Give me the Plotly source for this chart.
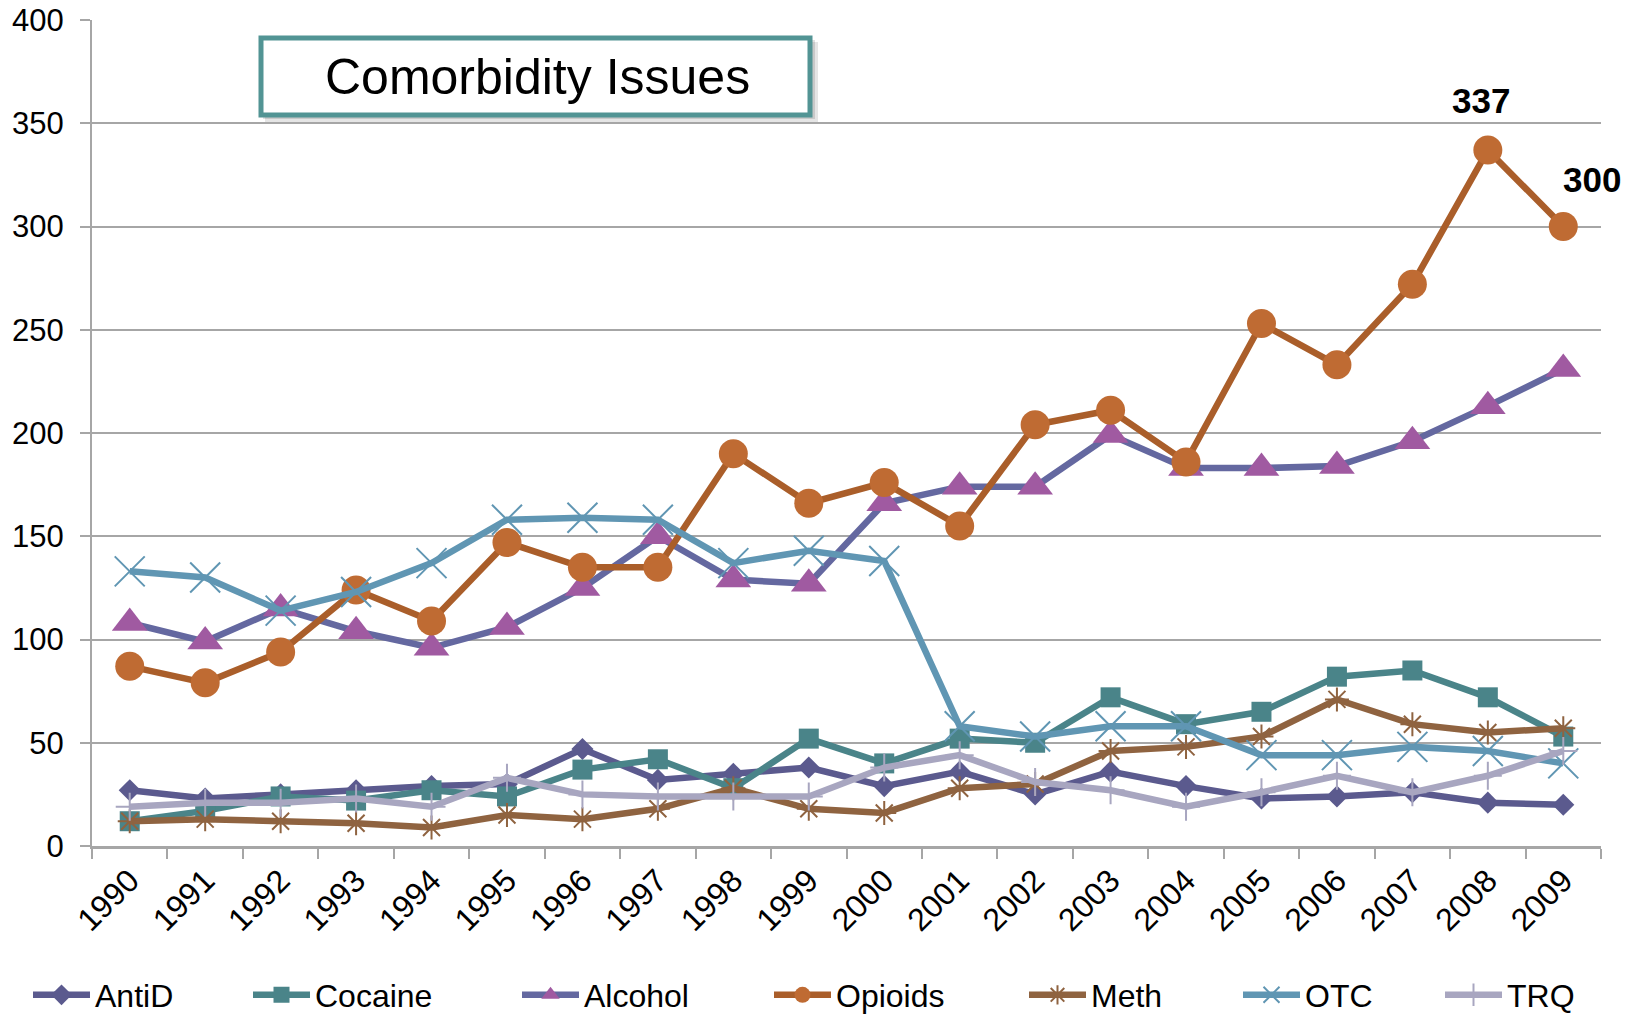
import plotly.graph_objects as go

years = [str(y) for y in range(1990, 2010)]
antid = [27, 23, 25, 27, 29, 30, 47, 32, 35, 38, 29, 36, 25, 36, 29, 23, 24, 26, 21, 20]
cocaine = [12, 17, 24, 22, 27, 24, 37, 42, 28, 52, 40, 52, 50, 72, 59, 65, 82, 85, 72, 53]
alcohol = [108, 99, 115, 104, 96, 106, 125, 150, 129, 127, 166, 174, 174, 199, 183, 183, 184, 196, 213, 231]
opioids = [87, 79, 94, 124, 109, 147, 135, 135, 190, 166, 176, 155, 204, 211, 186, 253, 233, 272, 337, 300]
meth = [12, 13, 12, 11, 9, 15, 13, 18, 28, 18, 16, 28, 30, 46, 48, 53, 71, 59, 55, 57]
otc = [133, 130, 114, 123, 137, 158, 159, 158, 137, 143, 138, 58, 53, 58, 58, 44, 44, 48, 46, 40]
trq = [19, 21, 21, 23, 19, 33, 25, 24, 24, 24, 38, 44, 31, 27, 19, 26, 34, 26, 34, 46]

title_text = "Comorbidity Issues"
y_ticks = [0, 50, 100, 150, 200, 250, 300, 350, 400]

FONT = "Liberation Sans, Arial, sans-serif"

series = [
    dict(name="AntiD", y=antid, line="#5B5A8E", mcolor="#5B5A8E", symbol="diamond", size=17, lw=0),
    dict(name="Cocaine", y=cocaine, line="#4A8489", mcolor="#4A8489", symbol="square", size=20, lw=0),
    dict(name="Alcohol", y=alcohol, line="#6468A0", mcolor="#A05AA1", symbol="triangle-up", size=31, lw=0),
    dict(name="Opioids", y=opioids, line="#AA5E2A", mcolor="#BF6B33", symbol="circle", size=29, lw=0),
    dict(name="Meth", y=meth, line="#8F6340", mcolor="#8F6340", symbol="asterisk-open", size=20, lw=2),
    dict(name="OTC", y=otc, line="#6096B3", mcolor="#6096B3", symbol="x-thin-open", size=30, lw=2),
    dict(name="TRQ", y=trq, line="#A8A6C0", mcolor="#A8A6C0", symbol="cross-thin-open", size=20, lw=2),
]

# page body margin is removed in post_script, so page coords == figure coords
W, H = 1638, 1015
PL, PR, PT, PB = 92, 1601, 20, 846          # plot area in page pixels
L, R, T, B = PL, W - PR, PT, H - PB
pw, ph = W - L - R, H - T - B

def px(x):
    return (x - L) / pw

def py(y):
    return (H - B - y) / ph

legend_x_page = [33, 253, 522, 774, 1029, 1243, 1445]

fig = go.Figure()
for i, s in enumerate(series):
    marker = dict(symbol=s["symbol"], size=s["size"], color=s["mcolor"])
    if s["lw"]:
        marker["line"] = dict(color=s["mcolor"], width=s["lw"])
    else:
        marker["line"] = dict(width=0)
    fig.add_trace(go.Scatter(
        x=years, y=s["y"], name=s["name"], mode="lines+markers",
        line=dict(color=s["line"], width=6.5),
        marker=marker,
        legend="legend" if i == 0 else "legend%d" % (i + 1),
    ))

shapes = [
    dict(type="rect", xref="paper", yref="paper",
         x0=px(265), x1=px(818), y0=py(122), y1=py(42),
         fillcolor="rgba(0,0,0,0.10)", line=dict(width=0), layer="above"),
    dict(type="rect", xref="paper", yref="paper",
         x0=px(263), x1=px(815), y0=py(119), y1=py(40),
         fillcolor="rgba(0,0,0,0.12)", line=dict(width=0), layer="above"),
    dict(type="rect", xref="paper", yref="paper",
         x0=px(261), x1=px(810), y0=py(115), y1=py(38),
         fillcolor="white", line=dict(color="#529494", width=5), layer="above"),
]

annotations = [
    dict(xref="paper", yref="paper", x=px(537), y=py(77), text=title_text,
         showarrow=False, font=dict(family=FONT, size=50, color="black"),
         xanchor="center", yanchor="middle"),
    dict(xref="x", yref="y", x=18, y=opioids[18], text="<b>" + str(opioids[18]) + "</b>",
         showarrow=False, xshift=-7, yshift=50,
         font=dict(family=FONT, size=35, color="black")),
    dict(xref="x", yref="y", x=19, y=opioids[19], text="<b>" + str(opioids[19]) + "</b>",
         showarrow=False, xshift=29, yshift=47,
         font=dict(family=FONT, size=35, color="black")),
]

legends = {}
for i, lx in enumerate(legend_x_page):
    key = "legend" if i == 0 else "legend%d" % (i + 1)
    legends[key] = dict(
        orientation="h", x=px(lx - 5), xanchor="left", y=py(995), yanchor="middle",
        font=dict(family=FONT, size=32, color="black"),
        itemwidth=57, bgcolor="rgba(0,0,0,0)",
    )

fig.update_layout(
    width=W, height=H,
    margin=dict(l=L, r=R, t=T, b=B, pad=0, autoexpand=False),
    paper_bgcolor="white", plot_bgcolor="white",
    font=dict(family=FONT, color="black"),
    shapes=shapes, annotations=annotations,
    showlegend=True,
    **legends,
)

fig.update_xaxes(
    type="category", range=[-0.5, 19.5], tickson="boundaries",
    ticks="outside", ticklen=10, tickwidth=2, tickcolor="#A6A6A6",
    showline=True, linecolor="#A6A6A6", linewidth=3, automargin=False,
    showgrid=False, tickangle=-45, tickfont=dict(family=FONT, size=32, color="black"),
    zeroline=False,
)
fig.update_yaxes(
    range=[0, 400], tickvals=y_ticks, ticks="outside", ticklen=10, tickwidth=2,
    tickcolor="#A6A6A6", showline=True, linecolor="#A6A6A6", linewidth=2,
    showgrid=True, gridcolor="#A6A6A6", gridwidth=2, zeroline=False, automargin=False,
    ticklabelstandoff=10,
    tickfont=dict(family=FONT, size=31, color="black"),
)

fig.write_html("out.html", config={"displayModeBar": False},
               post_script="document.body.style.margin='0px';document.body.style.overflow='hidden';")
